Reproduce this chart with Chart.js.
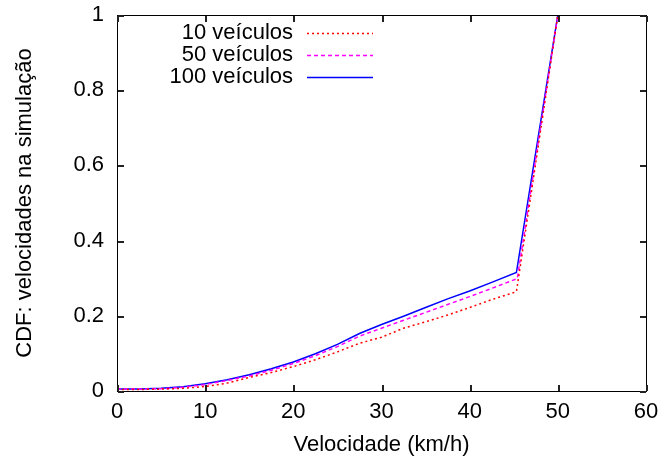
<!DOCTYPE html>
<html>
<head>
<meta charset="utf-8">
<script src="https://cdn.jsdelivr.net/npm/chart.js@4/dist/chart.umd.min.js"></script>
<style>
  html, body { margin: 0; padding: 0; background: #fff; }
  #wrap { width: 662px; height: 464px; }
</style>
</head>
<body>
<div id="wrap"><canvas id="myChart"></canvas></div>
<script>
// values
const seriesNames = ['10 veículos', '50 veículos', '100 veículos'];

const speeds10 = [0, 2.5, 5, 7.5, 10, 12.5, 15, 17.5, 20, 22.5, 25, 27.5, 30, 32.5, 35, 37.5, 40, 42.5, 45.3, 45.6, 50];
const cdf10    = [0.004, 0.004, 0.005, 0.007, 0.012, 0.021, 0.036, 0.049, 0.065, 0.083, 0.104, 0.127, 0.143, 0.167, 0.184, 0.202, 0.222, 0.243, 0.264, 0.31, 1];

const speeds50 = [0, 2.5, 5, 7.5, 10, 12.5, 15, 17.5, 20, 22.5, 25, 27.5, 30, 32.5, 35, 37.5, 40, 42.5, 45.4, 50];
const cdf50    = [0.005, 0.005, 0.006, 0.010, 0.017, 0.028, 0.040, 0.055, 0.073, 0.094, 0.118, 0.146, 0.167, 0.188, 0.209, 0.230, 0.251, 0.273, 0.299, 1];

const speeds100 = [0, 2.5, 5, 7.5, 10, 12.5, 15, 17.5, 20, 22.5, 25, 27.5, 30, 32.5, 35, 37.5, 40, 42.5, 45.3, 50];
const cdf100    = [0.005, 0.005, 0.007, 0.011, 0.019, 0.030, 0.043, 0.059, 0.077, 0.099, 0.124, 0.153, 0.177, 0.199, 0.222, 0.245, 0.266, 0.289, 0.315, 1];

const xTicks = [0, 10, 20, 30, 40, 50, 60];
const yTicks = [0, 0.2, 0.4, 0.6, 0.8, 1];

const FONT = 'Liberation Sans, Arial, Helvetica, sans-serif';
const FSIZE = 22;

function pts(xs, ys) {
  return xs.map((x, i) => ({ x: x, y: ys[i] }));
}

// gnuplot style box with ticks on the inside, and the key top-left
const gnuplotFrame = {
  id: 'gnuplotFrame',
  afterDraw(chart) {
    const ctx = chart.ctx;
    const a = chart.chartArea;
    const sx = chart.scales.x, sy = chart.scales.y;
    const L = Math.round(a.left), R = Math.round(a.right);
    const T = Math.round(a.top), B = Math.round(a.bottom);
    ctx.save();
    ctx.fillStyle = '#000';
    // frame
    ctx.fillRect(L, T, R - L + 1, 1);
    ctx.fillRect(L, B, R - L + 1, 1);
    ctx.fillRect(L, T, 1, B - T + 1);
    ctx.fillRect(R, T, 1, B - T + 1);
    // ticks, inside, mirrored
    ctx.fillStyle = '#222';
    for (const v of xTicks) {
      const px = Math.round(sx.getPixelForValue(v));
      ctx.fillRect(px, B - 6, 2, 6);
      ctx.fillRect(px, T + 1, 2, 6);
    }
    for (const v of yTicks) {
      const py = Math.round(sy.getPixelForValue(v));
      ctx.fillRect(L + 1, py, 6, 2);
      ctx.fillRect(R - 6, py, 6, 2);
    }

    // key
    ctx.font = FSIZE + 'px ' + FONT;
    ctx.textAlign = 'right';
    ctx.textBaseline = 'middle';
    chart.data.datasets.forEach((ds, i) => {
      const y = 33 + i * 22;
      ctx.fillStyle = '#000';
      ctx.fillText(ds.label, 293, y);
      ctx.strokeStyle = ds.borderColor;
      ctx.lineWidth = ds.borderWidth;
      ctx.setLineDash(ds.borderDash || []);
      ctx.beginPath();
      ctx.moveTo(307, y + 0.5);
      ctx.lineTo(373, y + 0.5);
      ctx.stroke();
    });
    ctx.restore();
  }
};

new Chart(document.getElementById('myChart').getContext('2d'), {
  type: 'line',
  data: {
    datasets: [
      {
        label: seriesNames[0],
        data: pts(speeds10, cdf10),
        borderColor: '#ff0000',
        borderWidth: 1.5,
        borderDash: [2, 3]
      },
      {
        label: seriesNames[1],
        data: pts(speeds50, cdf50),
        borderColor: '#ff00ff',
        borderWidth: 1.5,
        borderDash: [4, 3]
      },
      {
        label: seriesNames[2],
        data: pts(speeds100, cdf100),
        borderColor: '#0000ff',
        borderWidth: 1.5
      }
    ]
  },
  options: {
    responsive: true,
    maintainAspectRatio: false,
    animation: false,
    elements: { point: { radius: 0 }, line: { tension: 0, fill: false } },
    layout: { padding: { left: 8, right: 16, top: 15, bottom: 2 } },
    plugins: { legend: { display: false }, tooltip: { enabled: false } },
    scales: {
      x: {
        type: 'linear',
        min: 0,
        max: 60,
        afterBuildTicks: s => { s.ticks = xTicks.map(v => ({ value: v })); },
        afterFit: s => { s.height = 71; s.paddingLeft = 0; s.paddingRight = 0; },
        grid: { display: false, drawTicks: false },
        border: { display: false },
        ticks: { color: '#000', padding: 8, font: { family: FONT, size: FSIZE }, maxRotation: 0 },
        title: { display: true, text: 'Velocidade (km/h)', color: '#000', font: { family: FONT, size: FSIZE } }
      },
      y: {
        min: 0,
        max: 1,
        afterBuildTicks: s => { s.ticks = yTicks.map(v => ({ value: v })); },
        afterFit: s => { s.width = 109; s.paddingTop = 0; s.paddingBottom = 0; },
        grid: { display: false, drawTicks: false },
        border: { display: false },
        ticks: {
          color: '#000',
          padding: 13,
          font: { family: FONT, size: FSIZE },
          callback: v => String(Math.round(v * 10) / 10)
        },
        title: { display: true, text: 'CDF: velocidades na simulação', color: '#000', font: { family: FONT, size: FSIZE } }
      }
    }
  },
  plugins: [gnuplotFrame]
});
</script>
</body>
</html>
